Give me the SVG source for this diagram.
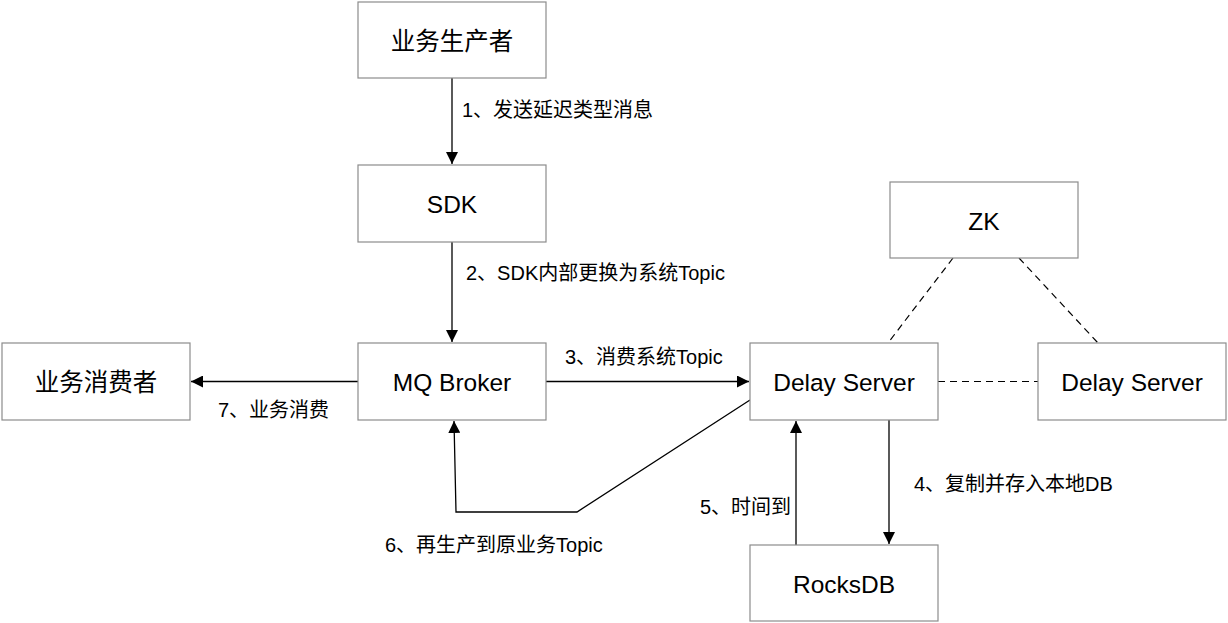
<svg xmlns="http://www.w3.org/2000/svg" width="1228" height="623" viewBox="0 0 1228 623">
<style>
.box{fill:#fff;stroke:#8c8c8c;stroke-width:1.2}
.lbl{font-family:"Liberation Sans","Noto Sans CJK SC",sans-serif;font-size:24.5px;fill:#000;text-anchor:middle;dominant-baseline:central}
.el{font-family:"Liberation Sans","Noto Sans CJK SC",sans-serif;font-size:20px;fill:#000;dominant-baseline:central}
.ln{fill:none;stroke:#000;stroke-width:1.3}
.dash{fill:none;stroke:#000;stroke-width:1.2;stroke-dasharray:7 5}
</style>
<defs>
<marker id="ah" viewBox="0 0 12 12" refX="12" refY="6" markerWidth="12" markerHeight="12" markerUnits="userSpaceOnUse" orient="auto">
<path d="M0,0 L12,6 L0,12 z" fill="#000"/>
</marker>
</defs>
<rect width="1228" height="623" fill="#fff"/>
<g id="connectors">
<line class="ln" x1="452" y1="78" x2="452" y2="164" marker-end="url(#ah)"/>
<line class="ln" x1="452" y1="242" x2="452" y2="342" marker-end="url(#ah)"/>
<line class="ln" x1="546" y1="381.5" x2="749" y2="381.5" marker-end="url(#ah)"/>
<line class="ln" x1="358" y1="381.5" x2="191" y2="381.5" marker-end="url(#ah)"/>
<line class="ln" x1="889" y1="420" x2="889" y2="544" marker-end="url(#ah)"/>
<line class="ln" x1="796" y1="545" x2="796" y2="421" marker-end="url(#ah)"/>
<polyline class="ln" points="750,400 577,512 456,512 454,421" marker-end="url(#ah)"/>
<line class="dash" x1="953" y1="258" x2="888" y2="343"/>
<line class="dash" x1="1019" y1="258" x2="1098" y2="343"/>
<line class="dash" x1="938" y1="381.5" x2="1038" y2="381.5"/>
<text class="el" x="462" y="110">1、发送延迟类型消息</text>
<text class="el" x="466" y="273">2、SDK内部更换为系统Topic</text>
<text class="el" x="565" y="357">3、消费系统Topic</text>
<text class="el" x="218" y="410">7、业务消费</text>
<text class="el" x="385" y="545">6、再生产到原业务Topic</text>
<text class="el" x="700" y="507">5、时间到</text>
<text class="el" x="914" y="484">4、复制并存入本地DB</text>
</g>
<g id="producer"><rect class="box" x="358" y="2" width="188" height="76"/><text class="lbl" x="452" y="41">业务生产者</text></g>
<g id="sdk"><rect class="box" x="358" y="165" width="188" height="77"/><text class="lbl" x="452" y="204">SDK</text></g>
<g id="broker"><rect class="box" x="358" y="343" width="188" height="77"/><text class="lbl" x="452" y="382">MQ Broker</text></g>
<g id="consumer"><rect class="box" x="2" y="343" width="188" height="77"/><text class="lbl" x="96" y="382">业务消费者</text></g>
<g id="delay1"><rect class="box" x="750" y="343" width="188" height="77"/><text class="lbl" x="844" y="382">Delay Server</text></g>
<g id="delay2"><rect class="box" x="1038" y="343" width="188" height="77"/><text class="lbl" x="1132" y="382">Delay Server</text></g>
<g id="zk"><rect class="box" x="890" y="182" width="188" height="76"/><text class="lbl" x="984" y="221">ZK</text></g>
<g id="rocksdb"><rect class="box" x="750" y="545" width="188" height="76"/><text class="lbl" x="844" y="584">RocksDB</text></g>
</svg>
